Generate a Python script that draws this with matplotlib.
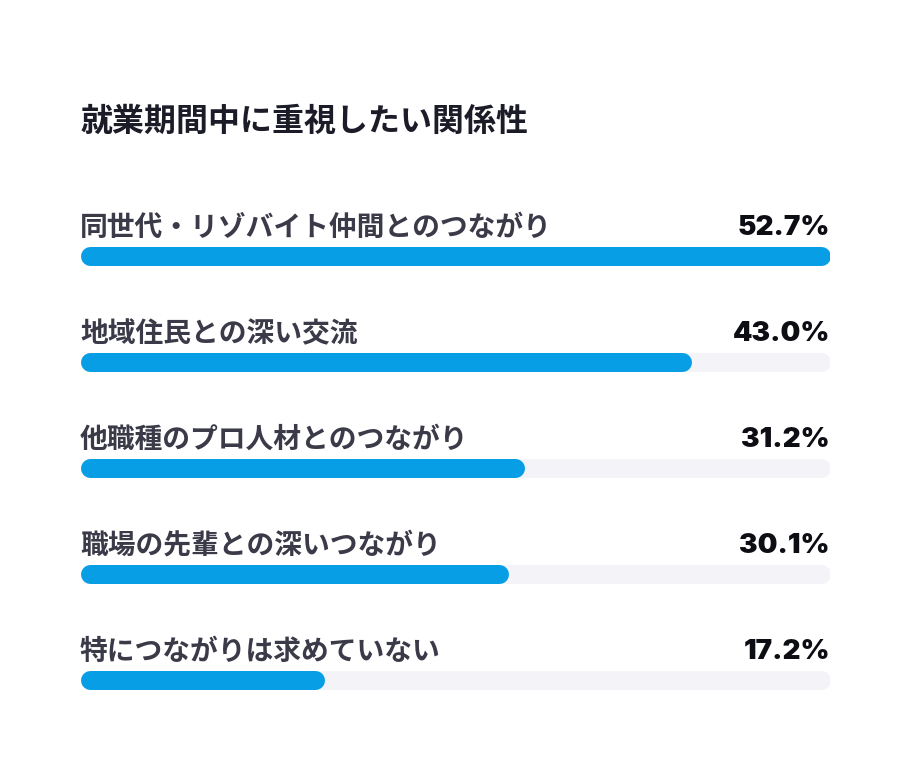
import matplotlib
matplotlib.use("Agg")
import matplotlib.pyplot as plt

plt.rcParams['font.family'] = ['Noto Sans CJK JP', 'DejaVu Sans']

title = "就業期間中に重視したい関係性"
labels = [
    "同世代・リゾバイト仲間とのつながり",
    "地域住民との深い交流",
    "他職種のプロ人材とのつながり",
    "職場の先輩との深いつながり",
    "特につながりは求めていない",
]
values = [52.7, 43.0, 31.2, 30.1, 17.2]
value_labels = ["52.7%", "43.0%", "31.2%", "30.1%", "17.2%"]

BLUE = "#079ee6"
TRACK = "#f3f3f8"
LABEL_COLOR = "#3a3a48"
VALUE_COLOR = "#0d0d14"

W, H, DPI = 910, 770, 100
fig = plt.figure(figsize=(W / DPI, H / DPI), dpi=DPI)
fig.patch.set_facecolor("white")

# axes spans the bar area horizontally (px 80 -> 830), full height vertically
left, right = 80, 830
ax = fig.add_axes([left / W, 0, (right - left) / W, 1])
ax.set_xlim(0, max(values))
first_y, step = 256, 106
ax.set_ylim((H - first_y) / step, -first_y / step)
ax.axis("off")

bar_px = 19
lw = bar_px * 72 / DPI
r = (bar_px / 2) * max(values) / (right - left)  # cap radius in data units

for i, (lab, v, vl) in enumerate(zip(labels, values, value_labels)):
    ax.plot([r, max(values) - r], [i, i], color=TRACK, lw=lw,
            solid_capstyle="round")
    ax.plot([r, v - r], [i, i], color=BLUE, lw=lw, solid_capstyle="round")
    ax.text(0, i - 28 / step, lab, ha="left", va="center", fontsize=20,
            fontweight="bold", color=LABEL_COLOR)
    ax.text(max(values), i - 28 / step, vl, ha="right", va="center",
            fontsize=20, fontweight=900, color=VALUE_COLOR,
            family=["Inter", "DejaVu Sans"])

fig.text(80 / W, 1 - 122 / H, title, ha="left", va="center", fontsize=23,
         fontweight="bold", color="#1c1c28")

fig.savefig("out.png", dpi=DPI, facecolor="white")
